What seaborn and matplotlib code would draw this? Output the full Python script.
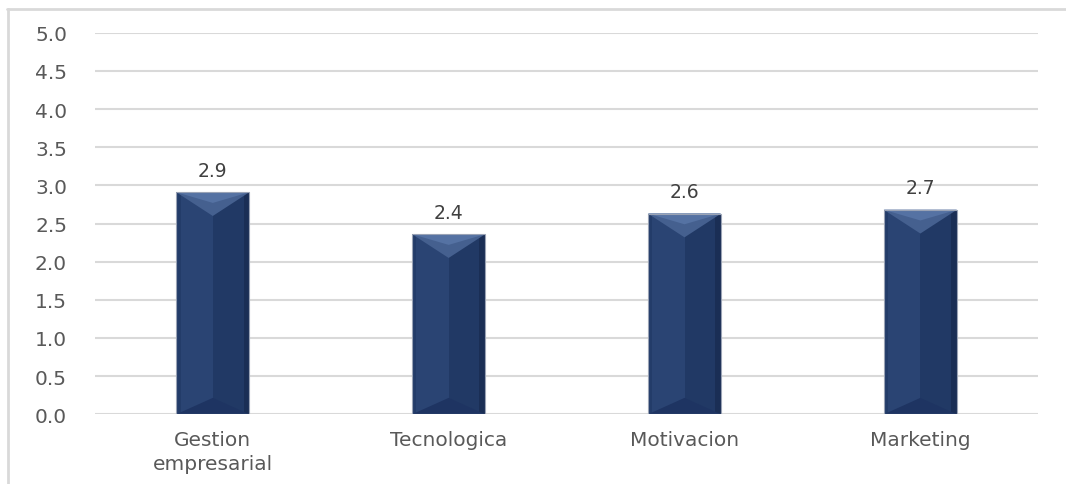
import matplotlib
matplotlib.use("Agg")
import matplotlib.pyplot as plt
from matplotlib.patches import Polygon, Rectangle
from matplotlib.lines import Line2D
import seaborn as sns
import pandas as pd

categories = ["Gestion\nempresarial", "Tecnologica", "Motivacion", "Marketing"]
values = [2.91, 2.36, 2.63, 2.68]
value_labels = ["2.9", "2.4", "2.6", "2.7"]
yticks = [0.0, 0.5, 1.0, 1.5, 2.0, 2.5, 3.0, 3.5, 4.0, 4.5, 5.0]

sns.set_theme(style="white")
plt.rcParams["font.family"] = ["DejaVu Sans"]

df = pd.DataFrame({"cat": categories, "val": values})

fig = plt.figure(figsize=(10.66, 4.85), dpi=100)
ax = fig.add_axes([0.089, 0.1437, 0.885, 0.7868])

sns.barplot(data=df, x="cat", y="val", color="#223b68", width=0.31,
            saturation=1, ax=ax, zorder=3)

ax.set_ylim(0, 5)
ax.set_xlim(-0.5, len(categories) - 0.5)
ax.set_yticks(yticks)
ax.set_yticklabels([f"{t:.1f}" for t in yticks])
ax.grid(axis="y", color="#d9d9d9", linewidth=1.5, zorder=0)
ax.set_axisbelow(True)
for s in ax.spines.values():
    s.set_visible(False)
ax.set_xlabel("")
ax.set_ylabel("")
ax.tick_params(axis="y", length=0, pad=20, labelsize=14.5, labelcolor="#595959")
ax.tick_params(axis="x", length=0, pad=11, labelsize=14.5, labelcolor="#595959")
for lab in ax.get_xticklabels():
    lab.set_linespacing(1.35)

fig.canvas.draw()
bbox = ax.get_window_extent()
px_per_unit = bbox.height / 5.0
px_per_xunit = bbox.width / (len(categories))

for p, lab in zip(list(ax.patches), value_labels):
    x0 = p.get_x()
    w = p.get_width()
    h = p.get_height()
    x1 = x0 + w
    xc = x0 + w / 2
    p.set_visible(False)
    half_w_px = w / 2 * px_per_xunit
    d_top = 0.65 * half_w_px / px_per_unit
    d_bot = 0.45 * half_w_px / px_per_unit
    # left half (lighter)
    ax.add_patch(Rectangle((x0, 0), w / 2, h, facecolor="#2a4473", edgecolor="none", zorder=3))
    # right half (darker)
    ax.add_patch(Rectangle((xc, 0), w / 2, h, facecolor="#213965", edgecolor="none", zorder=3))
    # right edge strip
    ax.add_patch(Rectangle((x1 - w * 0.08, 0), w * 0.08, h, facecolor="#1a2e55", edgecolor="none", zorder=3))
    # left edge strip
    ax.add_patch(Rectangle((x0, 0), w * 0.06, h, facecolor="#233c69", edgecolor="none", zorder=3))
    # top bevel (two tones for a soft gradient)
    ax.add_patch(Polygon([(x0, h), (x1, h), (xc, h - d_top)], closed=True,
                         facecolor="#45608f", edgecolor="none", zorder=4))
    ax.add_patch(Polygon([(x0, h), (x1, h), (xc, h - d_top * 0.45)], closed=True,
                         facecolor="#5572a3", edgecolor="none", zorder=4))
    # bottom bevel
    ax.add_patch(Polygon([(x0, 0), (x1, 0), (xc, d_bot)], closed=True,
                         facecolor="#1e3462", edgecolor="none", zorder=4))
    # outline
    ax.add_patch(Rectangle((x0, 0), w, h, facecolor="none", edgecolor="#9aa3b5",
                           linewidth=0.8, zorder=5))
    ax.annotate(lab, (xc, h), xytext=(0, 9), textcoords="offset points",
                ha="center", va="bottom", fontsize=13.5, color="#404040")

# outer chart frame (top and left edges visible)
fig.add_artist(Line2D([7 / 1066, 1.0], [1 - 10 / 485, 1 - 10 / 485],
                      transform=fig.transFigure, color="#d9d9d9", linewidth=2))
fig.add_artist(Line2D([8 / 1066, 8 / 1066], [0.0, 1 - 10 / 485],
                      transform=fig.transFigure, color="#d9d9d9", linewidth=2))

fig.savefig("out.png", dpi=100, facecolor="white")
